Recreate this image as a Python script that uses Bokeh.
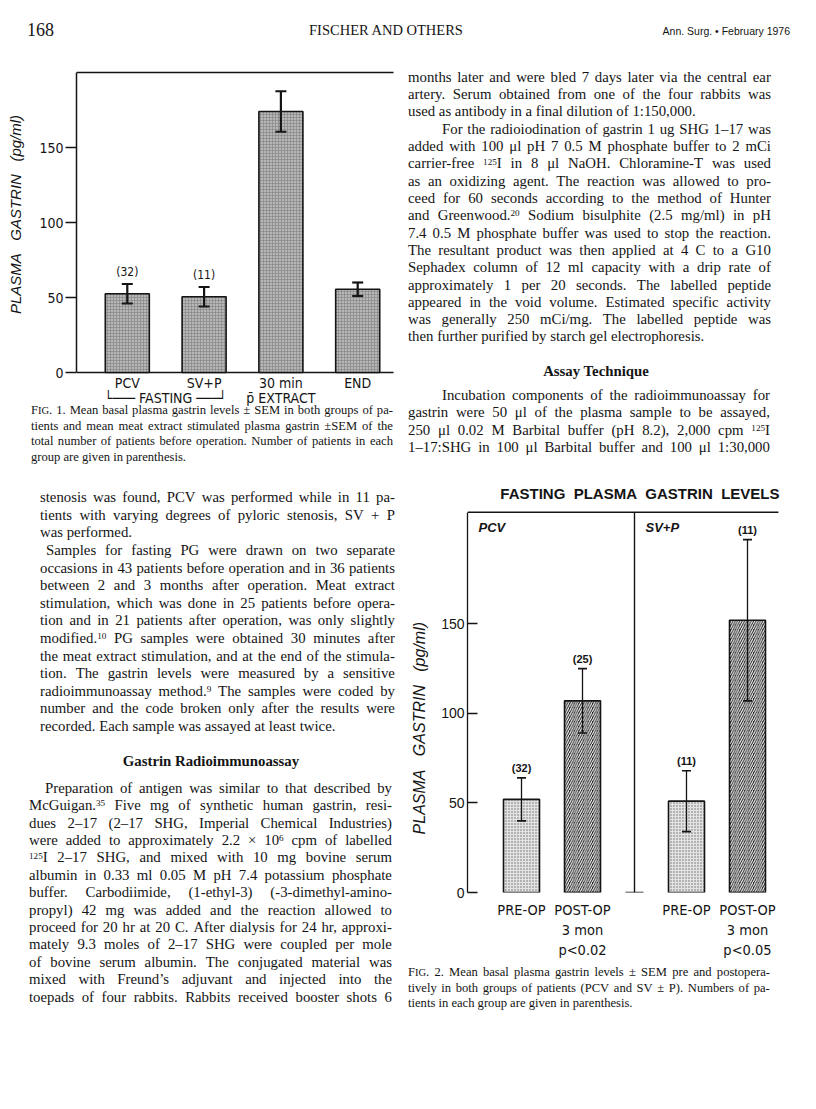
import re
import subprocess

from bokeh.core.properties import value
from bokeh.embed import file_html
from bokeh.layouts import column, row
from bokeh.models import (ColumnDataSource, Div, FactorRange, FixedTicker, Range1d,
                          TeeHead, Whisker)
from bokeh.plotting import figure
from bokeh.resources import INLINE

# ---------------------------------------------------------------- data
# Fig. 1  (mean basal / meat-extract stimulated plasma gastrin, pg/ml)
fig1_groups = ["FASTING", "FASTING", "p\u0304 EXTRACT", " "]
fig1_categories = ["PCV", "SV+P", "30 min", "END"]
fig1_mean = [52.5, 50.5, 174.0, 55.5]
fig1_sem = [6.5, 6.5, 13.5, 4.5]
fig1_n = ["(32)", "(11)", "", ""]
fig1_ticks = [0, 50, 100, 150]

# Fig. 2  (fasting plasma gastrin levels pre / post operation)
fig2_groups = ["PCV", "PCV", "SV+P", "SV+P"]
fig2_periods = ["PRE-OP", "POST-OP", "PRE-OP", "POST-OP"]
fig2_mean = [52.0, 107.0, 51.0, 152.0]
fig2_sem = [12.0, 18.0, 17.0, 45.0]
fig2_n = ["(32)", "(25)", "(11)", "(11)"]
fig2_post_note = "3 mon"
fig2_pvalue = {"PCV": "p<0.02", "SV+P": "p<0.05"}
fig2_ticks = [0, 50, 100, 150]


# ---------------------------------------------------------------- fonts
def pick_font(cands, default):
    try:
        out = subprocess.run(["fc-list", ":", "family"], capture_output=True,
                             text=True, timeout=10).stdout
    except Exception:
        return default
    fams = set()
    for ln in out.splitlines():
        for f in ln.split(","):
            fams.add(f.strip())
    for c in cands:
        if c in fams:
            return c
    return default


SANS = "Liberation Sans"
SERIF = "Liberation Serif"
NARROW = pick_font(["Liberation Sans Narrow", "DejaVu Sans Condensed",
                    "Roboto Condensed"], SANS)
INK = "#141414"
NB = "\u00a0"


def bracket(name):
    return "\u2514\u2500\u2500\u2500 " + name + " \u2500\u2500\u2500\u2518"


# ---------------------------------------------------------------- Fig. 1
f1_fac = [(bracket(g) if g == "FASTING" else g, c)
          for g, c in zip(fig1_groups, fig1_categories)]
F1_PAD = 0.5
F1_UNITS = len(f1_fac) + F1_PAD * 1 + F1_PAD * 2          # 1 inner gap, 2 group gaps
F1_W = 332
F1_S = 76.8 / (1 + F1_PAD)                                 # px per synthetic unit
F1_RP = (F1_W / F1_S - F1_UNITS) / 2.0
x1 = FactorRange(factors=f1_fac, factor_padding=F1_PAD, group_padding=F1_PAD,
                 range_padding=F1_RP, range_padding_units="absolute")
Y1_TOP = 200.0
y1 = Range1d(-24.0, Y1_TOP + 4.0 / 3.0)
p1 = figure(x_range=x1, y_range=y1, frame_width=F1_W, frame_height=338,
            min_border_left=76, min_border_right=0, min_border_top=12,
            min_border_bottom=0, toolbar_location=None, output_backend="svg",
            title=None)
p1.outline_line_color = None
p1.grid.visible = False
p1.background_fill_color = "white"
p1.border_fill_color = "white"
p1.xaxis.visible = False

s1 = ColumnDataSource(dict(
    x=f1_fac, cat=fig1_categories, mean=fig1_mean,
    upper=[m + s for m, s in zip(fig1_mean, fig1_sem)],
    lower=[m - s for m, s in zip(fig1_mean, fig1_sem)],
    n=fig1_n))
# frame lines (top and base), ending a little past the last bar as in the original
x1_start = -F1_RP
x1_end = (F1_UNITS - 0.5) + 0.70
p1.segment(x0=[x1_start, x1_start], x1=[x1_end, x1_end], y0=[0, Y1_TOP], y1=[0, Y1_TOP],
           line_color=INK, line_width=1.5)
p1.vbar(x="x", top="mean", width=0.86, source=s1, fill_color="#b7b7b7",
        line_color=INK, line_width=1.6, hatch_pattern="+", hatch_color="#878787",
        hatch_scale=3, hatch_weight=0.7)
wk1 = Whisker(source=s1, base="x", upper="upper", lower="lower", line_color=INK,
              line_width=2.2, level="overlay",
              upper_head=TeeHead(size=11, line_width=2.2, line_color=INK),
              lower_head=TeeHead(size=11, line_width=2.2, line_color=INK))
p1.add_layout(wk1)
p1.text(x="x", y="upper", text="n", source=s1, text_align="center",
        text_baseline="bottom", y_offset=-5, text_font=value(NARROW),
        text_font_size="12px", text_color=INK)
# category labels under the base line
p1.text(x="x", y=0, text="cat", source=s1, text_align="center", text_baseline="middle",
        y_offset=10, text_font=value(NARROW), text_font_size="14px", text_color=INK)
grp = [g for g in dict.fromkeys(g for g, _ in f1_fac) if g.strip()]
p1.text(x=grp, y=[0] * len(grp), text=grp, text_align="center", text_baseline="middle",
        y_offset=25, text_font=value(NARROW), text_font_size="14px", text_color=INK)

ya = p1.yaxis[0]
ya.ticker = FixedTicker(ticks=fig1_ticks)
ya.bounds = (0, Y1_TOP)
ya.major_tick_out = 11
ya.major_tick_in = 0
ya.minor_tick_out = 0
ya.minor_tick_in = 0
ya.axis_line_width = 1.5
ya.axis_line_color = INK
ya.major_tick_line_width = 1.5
ya.major_tick_line_color = INK
ya.major_label_standoff = 2
ya.major_label_text_font = NARROW
ya.major_label_text_font_size = "14px"
ya.major_label_text_color = INK
ya.axis_label = NB * 12 + "PLASMA" + NB * 2 + " GASTRIN" + NB * 2 + " (pg/ml)"
ya.axis_label_text_font = SANS
ya.axis_label_text_font_style = "italic"
ya.axis_label_text_font_size = "15px"
ya.axis_label_text_color = INK
ya.axis_label_standoff = 12

# ---------------------------------------------------------------- Fig. 2
f2_fac = [(g, per if per == "PRE-OP" else per + "\n" + fig2_post_note + "\n" + fig2_pvalue[g])
          for g, per in zip(fig2_groups, fig2_periods)]
F2_F, F2_G = 0.5, 1.557
F2_UNITS = len(f2_fac) + 2 * F2_F + F2_G
F2_W = 334
F2_S = 61.0 / (1 + F2_F)
F2_RP = (F2_W / F2_S - F2_UNITS) / 2.0
x2 = FactorRange(factors=f2_fac, factor_padding=F2_F, group_padding=F2_G,
                 range_padding=F2_RP, range_padding_units="absolute")
Y2_TOP = 212.3
y2 = Range1d(0, 213.25)
p2 = figure(x_range=x2, y_range=y2, frame_width=F2_W, frame_height=382,
            min_border_left=56, min_border_right=10, min_border_top=42,
            min_border_bottom=64, toolbar_location=None, output_backend="svg")
p2.outline_line_color = None
p2.grid.visible = False
p2.background_fill_color = "white"
p2.border_fill_color = "white"
p2.title.text = "FASTING" + NB + " PLASMA" + NB + " GASTRIN" + NB + " LEVELS"
p2.title.align = "right"
p2.title.offset = 22
p2.title.text_font = SANS
p2.title.text_font_size = "15px"
p2.title.text_font_style = "bold"
p2.title.text_color = INK
p2.title.standoff = 18

bar_style = {
    "PRE-OP": dict(fill_color="#e3e3e3", hatch_pattern=".", hatch_color="#6a6a6a",
                   hatch_scale=3.0, hatch_weight=1.0),
    "POST-OP": dict(fill_color="#1c1c1c", hatch_pattern="/", hatch_color="#ffffff",
                    hatch_scale=4.6, hatch_weight=1.1),
}
s2 = ColumnDataSource(dict(
    x=f2_fac, mean=fig2_mean,
    upper=[m + s for m, s in zip(fig2_mean, fig2_sem)],
    lower=[m - s for m, s in zip(fig2_mean, fig2_sem)],
    n=fig2_n))
x2_start = -F2_RP
x2_end = (F2_UNITS - 0.5) + 0.76
div_x = 2 + F2_F + F2_G / 2.0
p2.segment(x0=[x2_start, div_x], x1=[x2_end, div_x], y0=[Y2_TOP, 0], y1=[Y2_TOP, Y2_TOP],
           line_color=INK, line_width=1.4)
p2.scatter(x=[div_x], y=[0], marker="dash", size=18, line_color=INK, line_width=1.4)
for per, st in bar_style.items():
    idx = [i for i, pp in enumerate(fig2_periods) if pp == per]
    src = ColumnDataSource(dict(x=[f2_fac[i] for i in idx], mean=[fig2_mean[i] for i in idx]))
    p2.vbar(x="x", top="mean", width=0.885, source=src, line_color=INK,
            line_width=1.6, **st)
wk2 = Whisker(source=s2, base="x", upper="upper", lower="lower", line_color=INK,
              line_width=1.3, level="overlay",
              upper_head=TeeHead(size=9, line_width=1.6, line_color=INK),
              lower_head=TeeHead(size=9, line_width=1.6, line_color=INK))
p2.add_layout(wk2)
p2.text(x="x", y="upper", text="n", source=s2, text_align="center",
        text_baseline="bottom", y_offset=-4, text_font=value(SANS),
        text_font_size="11px", text_font_style="bold", text_color=INK)
panels = list(dict.fromkeys(fig2_groups))
p2.text(x=[x2_start, div_x], y=[Y2_TOP, Y2_TOP], text=panels, x_offset=11, y_offset=8,
        text_baseline="top", text_align="left", text_font=value(SANS),
        text_font_size="13px", text_font_style="bold italic", text_color=INK)

yb = p2.yaxis[0]
yb.ticker = FixedTicker(ticks=fig2_ticks)
yb.bounds = (0, Y2_TOP)
yb.major_tick_in = 10
yb.major_tick_out = 0
yb.minor_tick_in = 0
yb.minor_tick_out = 0
yb.axis_line_width = 1.3
yb.axis_line_color = INK
yb.major_tick_line_width = 1.3
yb.major_tick_line_color = INK
yb.major_label_standoff = 3
yb.major_label_text_font = SANS
yb.major_label_text_font_size = "14px"
yb.major_label_text_color = INK
yb.axis_label = "PLASMA" + NB * 2 + " GASTRIN" + NB * 2 + " (pg/ml)" + NB * 12
yb.axis_label_text_font = SANS
yb.axis_label_text_font_style = "italic"
yb.axis_label_text_font_size = "16px"
yb.axis_label_text_color = INK
yb.axis_label_standoff = 10

xb = p2.xaxis[0]
xb.axis_line_color = None
xb.major_tick_out = 0
xb.major_tick_in = 0
xb.major_label_standoff = 9
xb.major_label_text_font = NARROW
xb.major_label_text_font_size = "14.5px"
xb.major_label_text_line_height = 1.26
xb.major_label_text_color = INK
xb.group_text_font_size = "0px"
xb.group_text_color = None
xb.separator_line_color = None


# ---------------------------------------------------------------- page text
def fmt(t):
    return re.sub(r"\^\{([^}]*)\}",
                  r'<span style="font-size:0.62em;position:relative;top:-0.42em">\1</span>', t)


def line(text, x, yc, w, size, lh, mode="j", bold=False, family=SERIF):
    top = yc - lh / 2.0
    base = ("position:absolute;left:%.1fpx;top:%.1fpx;width:%.1fpx;height:%.1fpx;"
            "line-height:%.1fpx;font-family:'%s';font-size:%.1fpx;color:%s;white-space:nowrap;"
            "font-weight:%s;" % (x, top, w, lh, lh, family, size, INK,
                                 "bold" if bold else "normal"))
    if mode == "j":
        inner = "".join("<span>%s</span>" % fmt(wd) for wd in text.split())
        return '<div style="%sdisplay:flex;justify-content:space-between;">%s</div>' % (base, inner)
    align = {"l": "left", "c": "center", "r": "right"}[mode]
    return '<div style="%stext-align:%s;">%s</div>' % (base, align, fmt(text))


def block(paras, x, w, y0, lh, size, indent, ox, oy):
    out, y = [], y0
    for lines, ind_first, last_j in paras:
        for i, t in enumerate(lines):
            xi = x + (indent if (i == 0 and ind_first) else 0)
            last = i == len(lines) - 1
            out.append(line(t, xi - ox, y - oy, w - (xi - x), size, lh,
                            "j" if (not last or last_j) else "l"))
            y += lh
    return out


def box(items, w, h):
    return Div(text='<div style="position:relative;width:%dpx;height:%dpx;">%s</div>'
               % (w, h, "".join(items)), width=w, height=h, margin=0,
               styles={"overflow": "visible"})


ROW_Y = 58
COL_X = 408
header = box([
    line("168", 27, 30, 60, 18, 20, "l"),
    line("FISCHER AND OTHERS", 236, 30, 300, 14.5, 18, "c"),
    line("Ann. Surg. \u2022 February 1976", 590, 31, 200, 10.5, 14, "r", family=SANS),
], 816, ROW_Y)

# left column (under Fig. 1)
LO_Y = ROW_Y + 12 + 338
cap1 = [
    "F<small>IG</small>. 1. Mean basal plasma gastrin levels \u00b1 SEM in both groups of pa-",
    "tients and mean meat extract stimulated plasma gastrin \u00b1SEM of the",
    "total number of patients before operation. Number of patients in each",
    "group are given in parenthesis.",
]
left_a = [
    "stenosis was found, PCV was performed while in 11 pa-",
    "tients with varying degrees of pyloric stenosis, SV + P",
    "was performed.",
]
left_b = [
    "Samples for fasting PG were drawn on two separate",
    "occasions in 43 patients before operation and in 36 patients",
    "between 2 and 3 months after operation. Meat extract",
    "stimulation, which was done in 25 patients before opera-",
    "tion and in 21 patients after operation, was only slightly",
    "modified.^{10} PG samples were obtained 30 minutes after",
    "the meat extract stimulation, and at the end of the stimula-",
    "tion. The gastrin levels were measured by a sensitive",
    "radioimmunoassay method.^{9} The samples were coded by",
    "number and the code broken only after the results were",
    "recorded. Each sample was assayed at least twice.",
]
left_c = [
    "Preparation of antigen was similar to that described by",
    "McGuigan.^{35} Five mg of synthetic human gastrin, resi-",
    "dues 2\u201317 (2\u201317 SHG, Imperial Chemical Industries)",
    "were added to approximately 2.2 \u00d7 10^{6} cpm of labelled",
    "^{125}I 2\u201317 SHG, and mixed with 10 mg bovine serum",
    "albumin in 0.33 ml 0.05 M pH 7.4 potassium phosphate",
    "buffer. Carbodiimide, (1-ethyl-3) (-3-dimethyl-amino-",
    "propyl) 42 mg was added and the reaction allowed to",
    "proceed for 20 hr at 20 C. After dialysis for 24 hr, approxi-",
    "mately 9.3 moles of 2\u201317 SHG were coupled per mole",
    "of bovine serum albumin. The conjugated material was",
    "mixed with Freund\u2019s adjuvant and injected into the",
    "toepads of four rabbits. Rabbits received booster shots 6",
]
LH = 17.45
BS = 14.8
left_items = []
left_items += block([(cap1, False, False)], 31, 362, 411, 15.6, 12.6, 0, 0, LO_Y)
left_items += block([(left_a, False, False), (left_b, True, False)], 40, 355, 498, 17.6, BS, 6, 0, LO_Y)
left_items.append(line("Gastrin Radioimmunoassay", 211 - 150, 762 - LO_Y, 300, BS, LH, "c", bold=True))
left_items += block([(left_c, True, True)], 29, 363, 788.5, 17.4, BS, 16, 0, LO_Y)
left_box = box(left_items, COL_X, 1100 - LO_Y)

# right column (above Fig. 2)
right_a = [
    "months later and were bled 7 days later via the central ear",
    "artery. Serum obtained from one of the four rabbits was",
    "used as antibody in a final dilution of 1:150,000.",
]
right_b = [
    "For the radioiodination of gastrin 1 ug SHG 1\u201317 was",
    "added with 100 \u03bcl pH 7 0.5 M phosphate buffer to 2 mCi",
    "carrier-free ^{125}I in 8 \u03bcl NaOH. Chloramine-T was used",
    "as an oxidizing agent. The reaction was allowed to pro-",
    "ceed for 60 seconds according to the method of Hunter",
    "and Greenwood.^{20} Sodium bisulphite (2.5 mg/ml) in pH",
    "7.4 0.5 M phosphate buffer was used to stop the reaction.",
    "The resultant product was then applied at 4 C to a G10",
    "Sephadex column of 12 ml capacity with a drip rate of",
    "approximately 1 per 20 seconds. The labelled peptide",
    "appeared in the void volume. Estimated specific activity",
    "was generally 250 mCi/mg. The labelled peptide was",
    "then further purified by starch gel electrophoresis.",
]
right_c = [
    "Incubation components of the radioimmunoassay for",
    "gastrin were 50 \u03bcl of the plasma sample to be assayed,",
    "250 \u03bcl 0.02 M Barbital buffer (pH 8.2), 2,000 cpm ^{125}I",
    "1\u201317:SHG in 100 \u03bcl Barbital buffer and 100 \u03bcl 1:30,000",
]
RT_H = 468 - ROW_Y
rt_items = []
rt_items += block([(right_a, False, False), (right_b, True, False)], 408, 363, 77.5, 17.3, BS, 34, COL_X, ROW_Y)
rt_items.append(line("Assay Technique", 596 - 150 - COL_X, 371.5 - ROW_Y, 300, BS, LH, "c", bold=True))
rt_items += block([(right_c, True, True)], 408, 362, 395.5, 17.4, BS, 34, COL_X, ROW_Y)
right_top = box(rt_items, COL_X, RT_H)

RB_Y = 468 + 42 + 382 + 64
cap2 = [
    "F<small>IG</small>. 2. Mean basal plasma gastrin levels \u00b1 SEM pre and postopera-",
    "tively in both groups of patients (PCV and SV \u00b1 P). Numbers of pa-",
    "tients in each group are given in parenthesis.",
]
rb_items = block([(cap2, False, False)], 408, 362, 969, 15.4, 12.6, 0, COL_X, RB_Y)
right_bottom = box(rb_items, COL_X, 1100 - RB_Y)

page = column(header,
              row(column(p1, left_box, spacing=0), column(right_top, p2, right_bottom, spacing=0),
                  spacing=0),
              spacing=0)

open("out.html", "w").write(file_html(page, INLINE, title="Fischer and others, 1976"))
